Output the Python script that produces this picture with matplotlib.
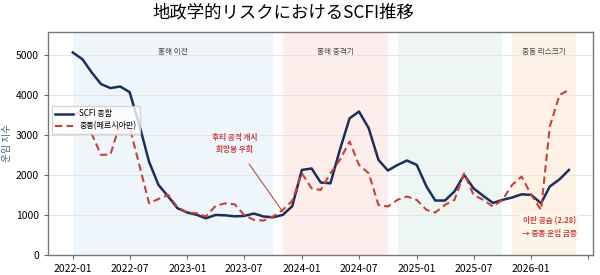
import numpy as np
import pandas as pd
import matplotlib
matplotlib.use('Agg')
import matplotlib.pyplot as plt

plt.rcParams['font.family'] = ['Noto Sans CJK KR', 'DejaVu Sans']

# monthly SCFI, 2022-01 .. 2026-05
months = pd.date_range('2022-01-01', '2026-05-01', freq='MS')
scfi = [5060, 4890, 4575, 4270, 4170, 4210, 4070, 3250, 2330, 1750,
        1460, 1165, 1060, 1000, 915, 1000, 990, 965, 975, 1035,
        960, 940, 1000, 1215, 2125, 2160, 1810, 1790, 2625, 3415,
        3585, 3165, 2375, 2110, 2250, 2360, 2250, 1710, 1360, 1360,
        1585, 2000, 1665, 1475, 1300, 1375, 1435, 1515, 1500, 1290,
        1710, 1890, 2125]
gulf = [3500, 3600, 3050, 2500, 2510, 3300, 3200, 2250, 1290, 1400,
        1500, 1190, 1060, 1040, 960, 1225, 1290, 1265, 1000, 875,
        860, 960, 1125, 1350, 2040, 1665, 1625, 2040, 2375, 2835,
        2250, 2040, 1250, 1210, 1380, 1460, 1375, 1125, 1060, 1250,
        1375, 2040, 1500, 1375, 1210, 1375, 1750, 1960, 1500, 1125,
        3210, 4000, 4125]

periods = ['홍해 이전', '홍해 충격기', '', '중동 리스크기']
period_start = ['2022-01-01', '2023-11-01', '2024-11-01', '2025-11-01']
period_end = ['2023-10-01', '2024-10-01', '2025-10-01', '2026-05-25']
period_colors = ['#EEF5FB', '#FDEEEC', '#EDF6F2', '#FEF2E6']

fig = plt.figure(figsize=(6, 2.75), dpi=100)
ax = fig.add_axes([0.08, 0.073, 0.908, 0.811])

for name, s, e, c in zip(periods, period_start, period_end, period_colors):
    s, e = pd.Timestamp(s), pd.Timestamp(e)
    ax.axvspan(s, e, color=c, zorder=0, lw=0)
    if name:
        ax.text(s + (e - s) / 2, 5080, name, ha='center', va='center',
                fontsize=5.5, color='#444444')

ax.plot(months, scfi, color='#1B2F5B', lw=1.8, label='SCFI 종합', zorder=3)
ax.plot(months, gulf, color='#C9403A', lw=1.5, dashes=(3.5, 2),
        label='중동(페르시아만)', zorder=3)

ax.annotate('후티 공격 개시\n희망봉 우회', xy=(pd.Timestamp('2023-11-01'), 1080),
            xytext=(pd.Timestamp('2023-06-01'), 2780), ha='center', va='center',
            fontsize=5.5, fontweight='bold', color='#C9403A', linespacing=1.5,
            arrowprops=dict(arrowstyle='-', color='#B5533F', lw=0.8,
                            shrinkA=6, shrinkB=0))
ax.text(pd.Timestamp('2026-02-27'), 700, '이란 공습 (2.28)\n→ 중동 운임 급등',
        ha='center', va='center', fontsize=5.5, fontweight='bold',
        color='#C9403A', linespacing=1.5,
        bbox=dict(boxstyle='square,pad=0.3', fc='#FFF6EE', ec='none'))

ax.set_xlim(pd.Timestamp('2021-10-14'), pd.Timestamp('2026-07-16'))
ax.set_ylim(0, 5575)
ax.set_yticks(np.arange(0, 5001, 1000))
tick_dates = pd.date_range('2022-01-01', '2026-07-01', freq='6MS')
ax.set_xticks(tick_dates)
ax.set_xticklabels([d.strftime('%Y-%m') for d in tick_dates[:-1]] + [''])
ax.tick_params(labelsize=7.5, length=3, color='#666666')
ax.grid(axis='y', color='#E4E4E4', lw=0.7, zorder=1)
ax.set_axisbelow(True)
for sp in ax.spines.values():
    sp.set_color('#777777')
    sp.set_linewidth(1.0)
ax.set_ylabel('운임 지수', fontsize=7, color='#4A6A8A')
ax.yaxis.set_label_coords(-0.066, 0.5)

ax.legend(loc='upper left', bbox_to_anchor=(0.0, 0.685), fontsize=5.8,
          frameon=True, facecolor='white', edgecolor='#CCCCCC',
          handlelength=2.2, borderpad=0.4, labelspacing=0.35, fancybox=False)

fig.text(0.472, 0.955, '地政学的リスクにおけるSCFI推移', ha='center', va='center',
         fontsize=12.5, family=['Noto Sans CJK JP', 'DejaVu Sans'])

fig.savefig('out.png', dpi=100)
